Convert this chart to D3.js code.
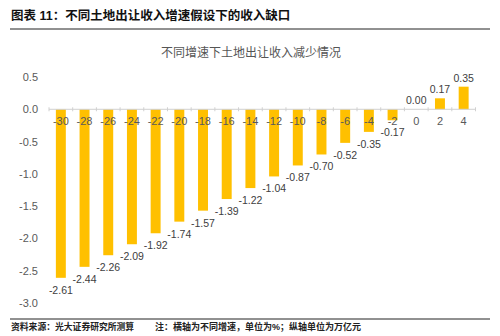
<!DOCTYPE html>
<html><head><meta charset="utf-8">
<script src="https://cdn.jsdelivr.net/npm/d3@7"></script>
<style>body{margin:0;background:#fff;}svg{display:block;}</style>
</head><body>
<svg id="c" width="500" height="336"></svg>
<script>
const categories = ["-30","-28","-26","-24","-22","-20","-18","-16","-14","-12","-10","-8","-6","-4","-2","0","2","4"];
const values = [-2.61,-2.44,-2.26,-2.09,-1.92,-1.74,-1.57,-1.39,-1.22,-1.04,-0.87,-0.70,-0.52,-0.35,-0.17,0.00,0.17,0.35];
const yTicks = [0.5,0.0,-0.5,-1.0,-1.5,-2.0,-2.5,-3.0];
const headerText = "图表 11：不同土地出让收入增速假设下的收入缺口";
const chartTitle = "不同增速下土地出让收入减少情况";
const sourceText = "资料来源：光大证券研究所测算";
const noteText = "注：横轴为不同增速，单位为%；纵轴单位为万亿元";

const font = "'Liberation Sans','Noto Sans CJK SC',Arial,sans-serif";
const svg = d3.select("#c");

svg.append("text").attr("x",11).attr("y",19.5).attr("font-family",font)
  .attr("font-size",12.5).attr("font-weight","bold").attr("fill","#111").text(headerText);
svg.append("line").attr("x1",10).attr("x2",490).attr("y1",29).attr("y2",29)
  .attr("stroke","#222").attr("stroke-width",1);

svg.append("text").attr("x",251).attr("y",57).attr("text-anchor","middle").attr("font-family",font)
  .attr("font-size",12).attr("fill","#555").text(chartTitle);

const x = d3.scaleBand().domain(categories).range([49,475.5]).paddingInner(0.58).paddingOuter(0.29);
const y = d3.scaleLinear().domain([-3.0,0.5]).range([303,77]);

// y axis labels
const yAxis = d3.axisLeft(y).tickValues(yTicks).tickFormat(d3.format(".1f")).tickSize(0).tickPadding(0);
const ga = svg.append("g").attr("transform","translate(38,0)").call(yAxis);
ga.select(".domain").remove();
ga.selectAll("text").attr("font-family",font).attr("font-size",11).attr("fill","#595959")
  .text(d=>d3.format(".1f")(d).replace("−","-"));

// bars
svg.append("g").selectAll("rect").data(values).join("rect")
  .attr("x",(d,i)=>x(categories[i]))
  .attr("width",x.bandwidth())
  .attr("y",d=>y(Math.max(0,d)))
  .attr("height",d=>Math.abs(y(d)-y(0)))
  .attr("fill","#FFC000");

// x axis line with ticks at boundaries
const x0 = 49, x1 = 475.5;
svg.append("line").attr("x1",x0).attr("x2",x1).attr("y1",y(0)).attr("y2",y(0))
  .attr("stroke","#d0d0d0").attr("stroke-width",1);
const bounds = d3.range(categories.length+1).map(i=>x0 + i*(x1-x0)/categories.length);
svg.append("g").selectAll("line").data(bounds).join("line")
  .attr("x1",d=>d).attr("x2",d=>d).attr("y1",y(0)-2).attr("y2",y(0)+2)
  .attr("stroke","#d0d0d0");

// category labels
svg.append("g").selectAll("text").data(categories).join("text")
  .attr("x",d=>x(d)+x.bandwidth()/2).attr("y",y(0)+16)
  .attr("text-anchor","middle").attr("font-family",font).attr("font-size",11).attr("fill","#595959")
  .text(d=>d);

// value labels
svg.append("g").selectAll("text").data(values).join("text")
  .attr("x",(d,i)=>x(categories[i])+x.bandwidth()/2)
  .attr("y",d=> d<0 ? y(d)+16 : y(d)-5)
  .attr("text-anchor","middle").attr("font-family",font).attr("font-size",10.5).attr("fill","#404040")
  .text(d=>d.toFixed(2));

svg.append("line").attr("x1",10).attr("x2",490).attr("y1",319).attr("y2",319)
  .attr("stroke","#222").attr("stroke-width",1);
svg.append("text").attr("x",11).attr("y",330).attr("font-family",font)
  .attr("font-size",8.8).attr("font-weight","bold").attr("fill","#222").text(sourceText);
svg.append("text").attr("x",155).attr("y",330).attr("font-family",font)
  .attr("font-size",9).attr("font-weight","bold").attr("fill","#222").text(noteText);
</script>
</body></html>
